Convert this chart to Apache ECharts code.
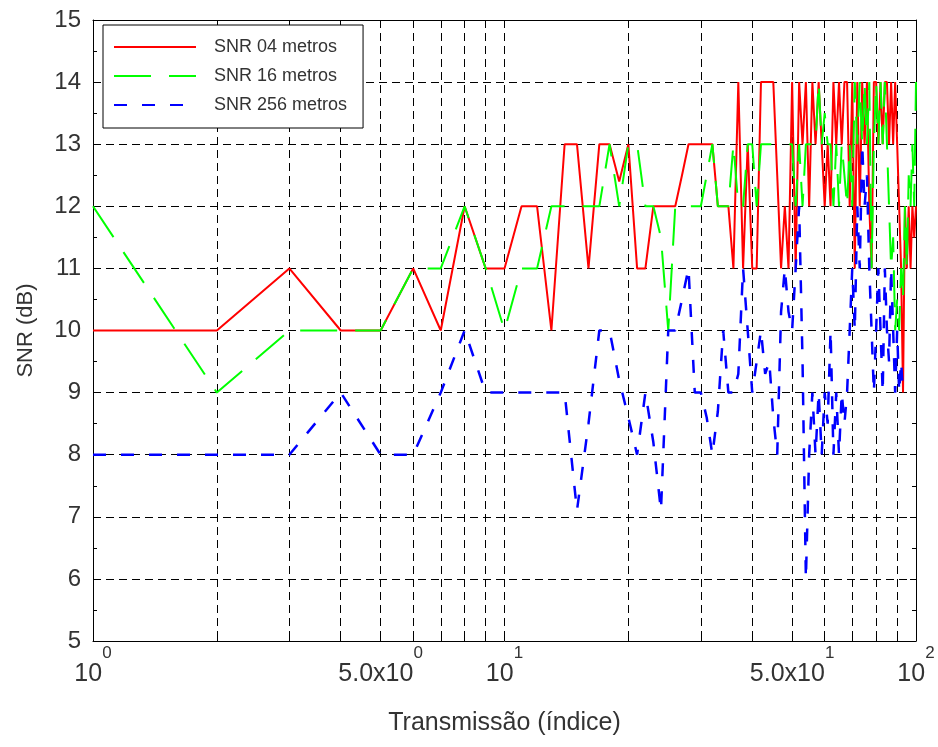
<!DOCTYPE html>
<html lang="pt">
<head>
  <meta charset="UTF-8">
  <title>SNR por transmissão</title>
  <script src="https://cdn.jsdelivr.net/npm/echarts@6/dist/echarts.min.js"></script>
  <style>html,body{margin:0;padding:0;background:#fff;}</style>
</head>
<body>
  <div id="snr_chart" style="width:938px;height:747px;"></div>

  <script>
    // índice da transmissão (eixo x, log)
    var transmissao = [
      1,2,3,4,5,6,7,8,9,10,11,12,13,14,15,16,17,18,19,20,
      21,22,23,24,25,26,27,28,29,30,31,32,33,34,35,36,37,38,39,40,
      41,42,43,44,45,46,47,48,49,50,51,52,53,54,55,56,57,58,59,60,
      61,62,63,64,65,66,67,68,69,70,71,72,73,74,75,76,77,78,79,80,
      81,82,83,84,85,86,87,88,89,90,91,92,93,94,95,96,97,98,99,100
    ];

    // SNR (dB)
    var snr04 = [
      10,10,11,10,10,11,10,12,11,11,12,12,10,13,13,11,13,13,12.4,13,
      11,11,12,12,12,12,12.5,13,13,13,13,13,12,12,12,11,14,11,13,11,
      11,14,14,14,14,12.5,11,12,11,14,11,14,13,14,12,14,13,14,13,12,
      13,12,14,13,14,13,14,14,12,14,11,14,12,14,13,14,12,11,14,14,
      13,14,13,14,14,13,14,13,14,13,12,11,9,12,11,12,11,12,11.5,12
    ];
    var snr16 = [
      12,9,10,10,10,11,11,12,11,10,11,11,12,12,12,12,12,13,12,13,
      13,12,12,11.5,10,12,12,12,12,12,12.5,13,12,12,12,13,12,12,13,13,
      12,13,13,13,13,13,13,13,13,13,12,13,12,13,13,13,13,14,13,13.5,
      13,13,12,13,12,13,12.5,12,13,12,14,13,14,13,14,13,14,11,13,14,
      13,14,13,14,13,12,11,11.5,10,10.5,10,11,10.5,12,11,12.5,12,13,12,14
    ];
    var snr256 = [
      8,8,8,9,8,8,9,10,9,9,9,9,9,9,7.1,8.5,10,10,9.2,8.6,
      8,9,8.2,7.1,10,10,10.5,11,9,9,8.6,8,8.7,10,9,9,9.3,11,10,9,
      9.5,10,9.3,9.5,8.6,8,10.3,11,10.3,10,11,12,9.5,6,8,9,8,9,8,9,
      8.5,10,8,9,8,9,8.5,9,10,11,10,12,11,13,12,12.5,11,10,9,10,
      11,10,9,11,10,9.5,11,10,9,10,9,9.5,9
    ];

    var ticksX = [1,2,3,4,5,6,7,8,9,10,20,30,40,50,60,70,80,90,100];
    var rotulosX = [1,5,10,50,100];

    function pares(ys) {
      var out = [];
      for (var i = 0; i < ys.length; i++) {
        if (ys[i] != null) out.push([transmissao[i], ys[i]]);
      }
      return out;
    }

    // 10^n com expoente sobrescrito
    function fmtPot(v) {
      var e = Math.floor(Math.log10(v) + 1e-9);
      var m = v / Math.pow(10, e);
      var base = Math.abs(m - 1) < 1e-9 ? '10' : m.toFixed(1) + 'x10';
      return '{b|' + base + '}{s|' + e + '}';
    }

    var fonte = 'Liberation Sans';
    var grade = { show: true, lineStyle: { color: '#000', width: 1, type: [8, 5] } };
    var moldura = { show: true, lineStyle: { color: '#000', width: 1 } };

    var chart = echarts.init(document.getElementById('snr_chart'));
    chart.setOption({
      animation: false,
      textStyle: { fontFamily: fonte },
      grid: { left: 93, right: 22, top: 20, bottom: 106 },
      legend: {
        left: 103, top: 25,
        orient: 'vertical',
        itemWidth: 82, itemHeight: 18, itemGap: 11,
        padding: [13, 16, 14, 10],
        backgroundColor: '#fff',
        borderColor: '#000', borderWidth: 1,
        itemStyle: { opacity: 0 },
        textStyle: { fontSize: 18, color: '#333', padding: [0, 0, 0, 13] },
        data: ['SNR 04 metros', 'SNR 16 metros', 'SNR 256 metros']
      },
      xAxis: [{
        type: 'log', logBase: 10, min: 1, max: 100,
        name: 'Transmissão (índice)', nameLocation: 'middle', nameGap: 70,
        nameTextStyle: { fontSize: 25, color: '#333' },
        axisLine: moldura,
        axisTick: { show: true, inside: true, length: 6, customValues: ticksX, lineStyle: { color: '#000' } },
        axisLabel: {
          customValues: rotulosX, margin: 18, color: '#333',
          formatter: fmtPot,
          rich: {
            b: { fontSize: 25, lineHeight: 30, color: '#333' },
            s: { fontSize: 17, lineHeight: 16, padding: [0, 0, 42, 0], color: '#333' }
          }
        },
        splitLine: grade
      }, {
        type: 'log', logBase: 10, min: 1, max: 100, position: 'top',
        axisLine: moldura,
        axisTick: { show: true, inside: true, length: 6, customValues: ticksX, lineStyle: { color: '#000' } },
        axisLabel: { show: false },
        splitLine: { show: false }
      }],
      yAxis: [{
        type: 'value', min: 5, max: 15, interval: 1,
        name: 'SNR (dB)', nameLocation: 'middle', nameGap: 56,
        nameTextStyle: { fontSize: 22, color: '#333' },
        axisLine: moldura,
        axisTick: { show: true, inside: true, length: 6, lineStyle: { color: '#000' } },
        minorTick: { show: true, splitNumber: 2, length: 4, lineStyle: { color: '#000' } },
        axisLabel: { fontSize: 24, color: '#333', margin: 12 },
        splitLine: grade
      }, {
        type: 'value', min: 5, max: 15, interval: 1, position: 'right',
        axisLine: moldura,
        axisTick: { show: true, inside: true, length: 6, lineStyle: { color: '#000' } },
        minorTick: { show: true, splitNumber: 2, length: 4, lineStyle: { color: '#000' } },
        axisLabel: { show: false },
        splitLine: { show: false }
      }],
      series: [{
        name: 'SNR 04 metros', type: 'line', symbol: 'none',
        lineStyle: { color: '#ff0000', width: 2 }, itemStyle: { color: '#ff0000' },
        data: pares(snr04)
      }, {
        name: 'SNR 16 metros', type: 'line', symbol: 'none',
        lineStyle: { color: '#00ff00', width: 2, type: [37, 18] }, itemStyle: { color: '#00ff00' },
        data: pares(snr16)
      }, {
        name: 'SNR 256 metros', type: 'line', symbol: 'none',
        lineStyle: { color: '#0000ff', width: 2.5, type: [13, 15] }, itemStyle: { color: '#0000ff' },
        data: pares(snr256)
      }]
    });
  </script>
</body>
</html>
